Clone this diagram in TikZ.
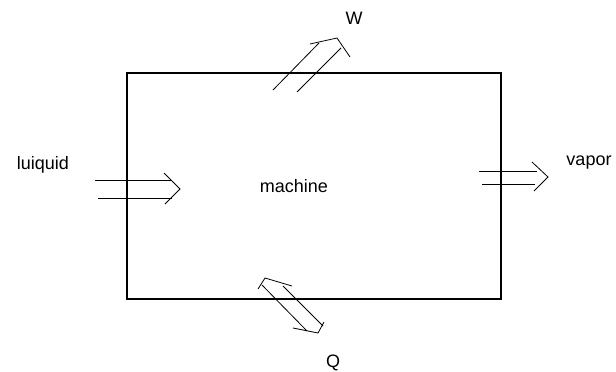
\documentclass[tikz,border=0pt]{standalone}
\usepackage{fontspec}
\setmainfont{Liberation Sans}
\begin{document}
\begin{tikzpicture}[x=1pt,y=-1pt,
  box/.style={line width=1.1pt},
  flow/.style={line width=0.8pt, line join=miter},
  lbl/.style={inner sep=0pt, font=\fontsize{18}{20}\selectfont}]
\useasboundingbox[fill=white] (0,0) rectangle (616,372);
% machine box
\coordinate (tl) at (127,73);
\coordinate (br) at (501,299);
\draw[box] (tl) rectangle (br);
% labels
\node[lbl] (liq) at (43,165) {luiquid};
\node[lbl] (mac) at (294,186) {machine};
\node[lbl] (vap) at (589,163) {vapor};
\node[lbl] (w) at (354,18) {W};
\node[lbl] (q) at (333,363) {Q};
% left inflow (liquid)
\coordinate (l1a) at (95,180);  \coordinate (l1b) at (172,180);
\coordinate (l2a) at (98,198);  \coordinate (l2b) at (172,198);
\coordinate (lh1) at (164,173); \coordinate (lht) at (180,189); \coordinate (lh2) at (165,204);
\draw[flow] (l1a) -- (l1b);
\draw[flow] (l2a) -- (l2b);
\draw[flow] (lh1) -- (lht) -- (lh2);
% right outflow (vapor)
\coordinate (r1a) at (479,171); \coordinate (r1b) at (537,171);
\coordinate (r2a) at (482,184); \coordinate (r2b) at (535,184);
\coordinate (rh1) at (532,162); \coordinate (rht) at (548,177); \coordinate (rh2) at (534,191);
\draw[flow] (r1a) -- (r1b);
\draw[flow] (r2a) -- (r2b);
\draw[flow] (rh1) -- (rht) -- (rh2);
% work arrow W
\coordinate (w1a) at (273,90);  \coordinate (w1b) at (319,43);
\coordinate (w2a) at (297,92);  \coordinate (w2b) at (341,48);
\coordinate (wh1) at (310,44);  \coordinate (wht) at (337,38); \coordinate (wh2) at (350,57);
\draw[flow] (w1a) -- (w1b);
\draw[flow] (w2a) -- (w2b);
\draw[flow] (wh1) -- (wht) -- (wh2);
% heat arrow Q (double headed)
\coordinate (q1a) at (262,285); \coordinate (q1b) at (307,331);
\coordinate (q2a) at (283,286); \coordinate (q2b) at (323,326);
\coordinate (qt1) at (258,289); \coordinate (qtt) at (265,278); \coordinate (qt2) at (292,286);
\coordinate (qb1) at (293,328); \coordinate (qbt) at (318,333); \coordinate (qb2) at (324,322);
\draw[flow] (q1a) -- (q1b);
\draw[flow] (q2a) -- (q2b);
\draw[flow] (qt1) -- (qtt) -- (qt2);
\draw[flow] (qb1) -- (qbt) -- (qb2);
\end{tikzpicture}
\end{document}
